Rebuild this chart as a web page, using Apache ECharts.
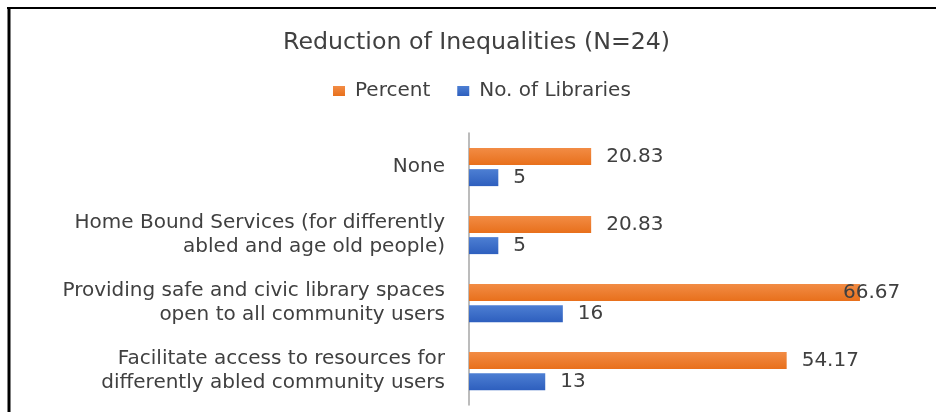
<!DOCTYPE html>
<html>
<head>
<meta charset="utf-8">
<style>
  html, body { margin: 0; padding: 0; background: #fff; }
  #chart { width: 936px; height: 412px; }
</style>
<script src="https://cdn.jsdelivr.net/npm/echarts@6/dist/echarts.min.js"></script>
</head>
<body>
<div id="chart"></div>
<script>
// Categories listed top to bottom
const categories = [
  'None',
  'Home Bound Services (for differently\nabled and age old people)',
  'Providing safe and civic library spaces\nopen to all community users',
  'Facilitate access to resources for\ndifferently abled community users'
];
const percentValues = [20.83, 20.83, 66.67, 54.17];
const libraryCounts = [5, 5, 16, 13];
const seriesNames = ['Percent', 'No. of Libraries'];

const textColor = '#404040';
const fontFamily = 'DejaVu Sans';

function barGradient(top, bottom) {
  return new echarts.graphic.LinearGradient(0, 0, 0, 1, [
    { offset: 0, color: top },
    { offset: 1, color: bottom }
  ]);
}

const valueLabel = {
  show: true,
  position: 'right',
  distance: 15,
  color: textColor,
  fontFamily: fontFamily,
  fontSize: 20
};

// The longest percent bar runs into the right margin, so its label sits over the bar end
const xMax = 70;
const percentData = percentValues.map(v => {
  if (v > xMax - 10) {
    return { value: v, label: { distance: -17 } };
  }
  return v;
});

const chart = echarts.init(document.getElementById('chart'));
chart.setOption({
  animation: false,
  backgroundColor: '#fff',
  title: {
    text: 'Reduction of Inequalities (N=24)',
    left: 278,
    top: 26,
    textStyle: {
      fontFamily: fontFamily,
      fontWeight: 'normal',
      fontSize: 23.7,
      color: textColor
    }
  },
  legend: {
    data: seriesNames,
    top: 76,
    left: 328,
    itemWidth: 12,
    itemHeight: 10,
    itemGap: 27,
    icon: 'rect',
    textStyle: {
      fontFamily: fontFamily,
      fontSize: 20,
      color: textColor,
      padding: [0, 0, 0, 5]
    }
  },
  grid: {
    left: 469,
    right: 56.5,
    top: 133,
    bottom: 7,
    containLabel: false
  },
  xAxis: {
    type: 'value',
    min: 0,
    max: xMax,
    show: false,
    splitLine: { show: false }
  },
  yAxis: {
    type: 'category',
    data: categories,
    inverse: true,
    axisLine: { show: true, lineStyle: { color: '#a6a6a6', width: 1.5 } },
    axisTick: { show: false },
    axisLabel: {
      margin: 24,
      color: textColor,
      fontFamily: fontFamily,
      fontSize: 20,
      lineHeight: 24,
      align: 'right'
    }
  },
  series: [
    {
      name: seriesNames[0],
      type: 'bar',
      data: percentData,
      barWidth: 17,
      barGap: '25%',
      itemStyle: { color: barGradient('#f28c45', '#e8701c') },
      label: valueLabel
    },
    {
      name: seriesNames[1],
      type: 'bar',
      data: libraryCounts,
      barWidth: 17,
      barGap: '25%',
      itemStyle: { color: barGradient('#4d7fd3', '#2e5fbe') },
      label: valueLabel
    }
  ],
  graphic: [
    {
      type: 'line',
      shape: { x1: 7, y1: 8, x2: 936, y2: 8 },
      style: { stroke: '#000', lineWidth: 2 }
    },
    {
      type: 'line',
      shape: { x1: 9, y1: 7, x2: 9, y2: 412 },
      style: { stroke: '#000', lineWidth: 3 }
    }
  ]
});
</script>
</body>
</html>
